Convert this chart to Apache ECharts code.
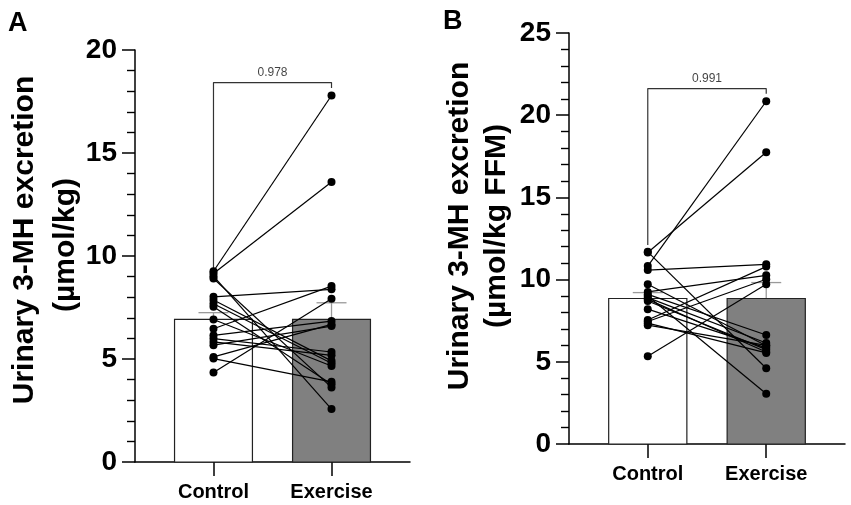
<!DOCTYPE html>
<html>
<head>
<meta charset="utf-8">
<script src="https://cdn.jsdelivr.net/npm/echarts@6.0.0/dist/echarts.min.js"></script>
<style>
  html, body { margin: 0; padding: 0; background: #fff; }
  #chart { width: 851px; height: 505px; }
</style>
</head>
<body>
<div id="chart"></div>
<script>
// categories
const categories = ["Control", "Exercise"];

// panel A: µmol/kg, paired subjects (control[i] -> exercise[i])
const controlA = [9.26, 9.15, 9.02, 8.91, 8.02, 7.86, 7.68, 7.54, 6.92, 6.47, 6.15, 5.99, 5.83, 5.67, 5.10, 5.02, 4.34];
const exerciseA = [17.79, 13.59, 2.57, 3.62, 8.38, 4.91, 4.79, 3.78, 4.66, 8.54, 6.84, 5.34, 5.18, 6.60, 6.68, 3.89, 7.93];
const meanA = [6.92, 6.92];
const errTopA = [7.25, 7.73];
const bracketA = [9.4, 18.42, 18.15]; // left leg end, top, right leg end
const pValueA = "0.978";
const yMaxA = 20;

// panel B: µmol/kg FFM
const controlB = [11.69, 11.65, 10.82, 10.58, 9.72, 9.25, 9.10, 9.00, 8.90, 8.80, 8.70, 8.20, 7.54, 7.45, 7.35, 7.23, 5.34];
const exerciseB = [4.61, 17.75, 20.85, 10.93, 5.98, 10.26, 6.63, 3.06, 6.14, 5.60, 5.74, 5.85, 10.79, 10.02, 5.54, 6.00, 9.72];
const meanB = [8.85, 8.85];
const errTopB = [9.21, 9.82];
const bracketB = [12.1, 21.62, 21.3];
const pValueB = "0.991";
const yMaxB = 25;

const FONT = '"Liberation Sans", Arial, sans-serif';
const chart = echarts.init(document.getElementById("chart"));

// bars + sem whiskers
function renderBar(params, api) {
  const x = api.value(0), m = api.value(1), e = api.value(2);
  const tl = api.coord([x - 0.33, m]);
  const br = api.coord([x + 0.33, 0]);
  const mid = api.coord([x, m]);
  const top = api.coord([x, e]);
  return {
    type: "group",
    children: [
      { type: "line", shape: { x1: mid[0], y1: mid[1], x2: top[0], y2: top[1] }, style: { stroke: "#9a9a9a", lineWidth: 1.3 } },
      { type: "line", shape: { x1: top[0] - 15, y1: top[1], x2: top[0] + 15, y2: top[1] }, style: { stroke: "#9a9a9a", lineWidth: 1.3 } },
      {
        type: "rect",
        shape: { x: tl[0], y: tl[1], width: br[0] - tl[0], height: br[1] - tl[1] },
        style: { fill: x === 0 ? "#ffffff" : "#808080", stroke: "#222", lineWidth: 1.2 },
      },
    ],
  };
}

function panelSeries(idx, ctrl, ex, mean, errTop, bracket, pValue) {
  const list = [];
  list.push({
    type: "custom",
    xAxisIndex: idx,
    yAxisIndex: idx,
    renderItem: renderBar,
    data: categories.map((c, i) => [i, mean[i], errTop[i]]),
    z: 1,
  });
  // one line per subject
  ctrl.forEach((v, i) => {
    list.push({
      type: "line",
      xAxisIndex: idx,
      yAxisIndex: idx,
      data: [[0, v], [1, ex[i]]],
      symbol: "circle",
      symbolSize: 8,
      itemStyle: { color: "#000" },
      lineStyle: { color: "#000", width: 1.2 },
      z: 3,
    });
  });
  // significance bracket
  list.push({
    type: "line",
    xAxisIndex: idx,
    yAxisIndex: idx,
    data: [[0, bracket[0]], [0, bracket[1]], [1, bracket[1]], [1, bracket[2]]],
    symbol: "none",
    lineStyle: { color: "#333", width: 1.2 },
    z: 2,
  });
  list.push({
    type: "scatter",
    xAxisIndex: idx,
    yAxisIndex: idx,
    data: [[0.5, bracket[1]]],
    symbolSize: 0,
    label: {
      show: true,
      position: "top",
      distance: 4,
      formatter: pValue,
      fontSize: 12,
      fontFamily: FONT,
      color: "#111",
    },
  });
  return list;
}

function xAxisOf(idx) {
  return {
    type: "value",
    gridIndex: idx,
    min: -0.665,
    max: 1.665,
    splitLine: { show: false },
    axisLine: { show: true, onZero: false, lineStyle: { color: "#000", width: 1.5 } },
    axisTick: { show: true, customValues: [0, 1], length: 14, lineStyle: { color: "#000", width: 1.5 } },
    axisLabel: {
      customValues: [0, 1],
      formatter: (v) => categories[Math.round(v)],
      margin: 20,
      fontSize: 20,
      fontWeight: "bold",
      fontFamily: FONT,
      color: "#000",
    },
  };
}

function yAxisOf(idx, yMax) {
  return {
    type: "value",
    gridIndex: idx,
    min: 0,
    max: yMax,
    interval: 5,
    splitLine: { show: false },
    axisLine: { show: true, onZero: false, lineStyle: { color: "#000", width: 1.5 } },
    axisTick: { show: true, length: 13, lineStyle: { color: "#000", width: 1.5 } },
    minorTick: { show: true, splitNumber: 5, length: 8, lineStyle: { color: "#000", width: 1.4 } },
    axisLabel: { margin: 18, fontSize: 28, fontWeight: "bold", fontFamily: FONT, color: "#000" },
  };
}

function vText(text, x, y) {
  return {
    type: "text",
    x: x,
    y: y,
    rotation: Math.PI / 2,
    style: {
      text: text,
      font: "bold 30px " + FONT,
      fill: "#000",
      align: "center",
      verticalAlign: "middle",
      textAlign: "center",
      textVerticalAlign: "middle",
    },
  };
}

const option = {
  animation: false,
  backgroundColor: "#fff",
  grid: [
    { left: 135, top: 50, width: 275, height: 412 },
    { left: 569, top: 33, width: 276, height: 411 },
  ],
  xAxis: [xAxisOf(0), xAxisOf(1)],
  yAxis: [yAxisOf(0, yMaxA), yAxisOf(1, yMaxB)],
  graphic: [
    { type: "text", left: 8, top: 10, style: { text: "A", font: "bold 27px " + FONT, fill: "#000" } },
    { type: "text", left: 443, top: 8, style: { text: "B", font: "bold 27px " + FONT, fill: "#000" } },
    vText("Urinary 3-MH excretion", 25, 240),
    vText("(µmol/kg)", 66, 245),
    vText("Urinary 3-MH excretion", 460, 226),
    vText("(µmol/kg FFM)", 497, 226),
  ],
  series: [
    ...panelSeries(0, controlA, exerciseA, meanA, errTopA, bracketA, pValueA),
    ...panelSeries(1, controlB, exerciseB, meanB, errTopB, bracketB, pValueB),
  ],
};

chart.setOption(option);
window.addEventListener("resize", function () {
  chart.resize();
});
</script>
</body>
</html>
